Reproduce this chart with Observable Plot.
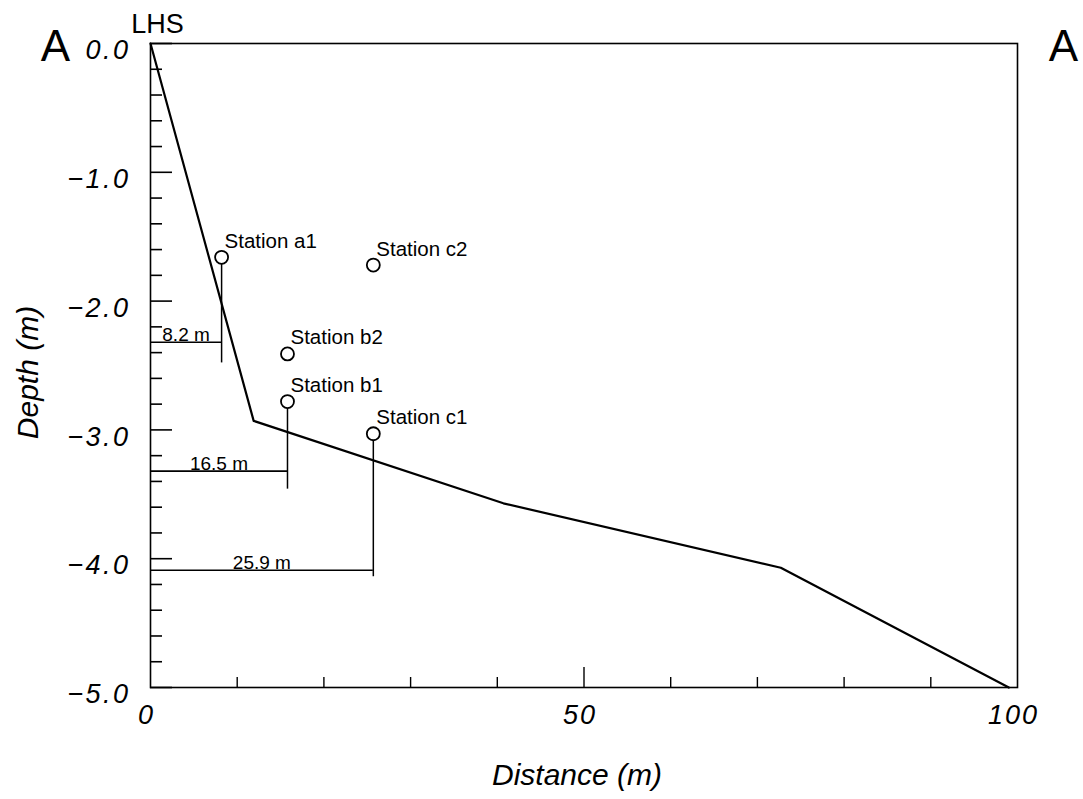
<!DOCTYPE html>
<html>
<head>
<meta charset="utf-8">
<script src="https://cdn.jsdelivr.net/npm/d3@7"></script>
<script src="https://cdn.jsdelivr.net/npm/@observablehq/plot@0.6"></script>
<style>
  html, body { margin: 0; padding: 0; background: #fff; }
  svg { display: block; }
  g[aria-label="y-axis tick label"] text { letter-spacing: 2.5px; }
  g[aria-label="x-axis tick label"] text { letter-spacing: 2px; }
</style>
</head>
<body>
<div id="chart"></div>
<script>
// Beach profile
const profileX = [0, 11.9, 40.7, 72.7, 99];
const profileDepth = [0, -2.93, -3.57, -4.07, -5.0];

// Stations
const stationNames = ["Station a1", "Station b2", "Station b1", "Station c2", "Station c1"];
const stationX = [8.2, 15.8, 15.8, 25.7, 25.7];
const stationDepth = [-1.66, -2.41, -2.78, -1.72, -3.03];

// Distance markers (stems + horizontal dimension lines)
const distLabels = ["8.2 m", "16.5 m", "25.9 m"];
const distX = [8.2, 15.8, 25.7];
const distDepth = [-2.32, -3.32, -4.09];
const stemTop = [-1.66, -2.78, -3.03];
const stemBottom = [-2.48, -3.46, -4.14];

// Axis ticks
const xMinorTicks = [10, 20, 30, 40, 60, 70, 80, 90];
const xMajorTicks = [50];
const xTickLabels = [0, 50, 100];
const yMajorTicks = [0, -1, -2, -3, -4, -5];
const yMinorTicks = d3.range(0, 26).map(i => -i * 0.2).filter(v => Math.abs(v - Math.round(v)) > 1e-6);

const profile = profileX.map((x, i) => ({x, y: profileDepth[i]}));
const stations = stationNames.map((name, i) => ({name, x: stationX[i], y: stationDepth[i]}));
const dist = distLabels.map((label, i) => ({label, x: distX[i], y: distDepth[i], top: stemTop[i], bottom: stemBottom[i]}));

const W = 1083, H = 799;
const mL = 150, mR = 66, mT = 43, mB = 112;
const pw = W - mL - mR, ph = H - mT - mB;
const font = "'Liberation Sans', Arial, Helvetica, sans-serif";

const chart = Plot.plot({
  width: W,
  height: H,
  marginLeft: mL,
  marginRight: mR,
  marginTop: mT,
  marginBottom: mB,
  style: {fontFamily: font, background: "#fff", color: "#000"},
  x: {domain: [0, 100]},
  y: {domain: [-5, 0]},
  marks: [
    Plot.frame({stroke: "#000", strokeWidth: 1.6}),
    // axes labels (italic)
    Plot.axisY(yMajorTicks, {tickSize: 0, tickPadding: 20, tickFormat: d3.format(".1f"), fontSize: 27, fontStyle: "italic", dy: 7, label: null}),
    Plot.axisX(xTickLabels, {tickSize: 0, tickPadding: 17, tickFormat: d => String(d), fontSize: 27, fontStyle: "italic", dx: -4, label: null}),
    // inward ticks
    Plot.tickY(yMinorTicks, {y: d => d, insetRight: pw - 12, stroke: "#000", strokeWidth: 1.6}),
    Plot.tickY(yMajorTicks, {y: d => d, insetRight: pw - 22, stroke: "#000", strokeWidth: 1.6}),
    Plot.tickX(xMinorTicks, {x: d => d, insetTop: ph - 10, stroke: "#000", strokeWidth: 1.4}),
    Plot.tickX(xMajorTicks, {x: d => d, insetTop: ph - 20, stroke: "#000", strokeWidth: 1.4}),
    // profile
    Plot.line(profile, {x: "x", y: "y", stroke: "#000", strokeWidth: 2.2}),
    // distance stems and dimension lines
    Plot.ruleX(dist, {x: "x", y1: "top", y2: "bottom", stroke: "#000", strokeWidth: 1.5}),
    Plot.ruleY(dist, {y: "y", x1: 0, x2: "x", stroke: "#000", strokeWidth: 1.6}),
    Plot.text(dist, {x: d => d.x / 2, y: "y", text: "label", fontSize: 19, textAnchor: "middle", lineAnchor: "bottom", dy: -1, fill: "#000"}),
    // stations
    Plot.dot(stations, {x: "x", y: "y", r: 6.5, stroke: "#000", fill: "#fff", strokeWidth: 1.8}),
    Plot.text(stations, {x: "x", y: "y", text: "name", fontSize: 20.5, textAnchor: "start", lineAnchor: "middle", dx: 3, dy: -16, fill: "#000"}),
    // titles
    Plot.text(["Depth (m)"], {frameAnchor: "left", text: d => d, rotate: -90, fontSize: 30, fontStyle: "italic", textAnchor: "middle", lineAnchor: "middle", dx: -122, dy: 7, fill: "#000"}),
    Plot.text(["Distance (m)"], {frameAnchor: "bottom", text: d => d, fontSize: 30, fontStyle: "italic", textAnchor: "middle", lineAnchor: "middle", dx: -7, dy: 88, fill: "#000"}),
    Plot.text(["A"], {frameAnchor: "top-left", text: d => d, fontSize: 44, textAnchor: "middle", lineAnchor: "middle", dx: -95, dy: 3, fill: "#000"}),
    Plot.text(["A"], {frameAnchor: "top-right", text: d => d, fontSize: 44, textAnchor: "middle", lineAnchor: "middle", dx: 46, dy: 3, fill: "#000"}),
    Plot.text(["LHS"], {frameAnchor: "top-left", text: d => d, fontSize: 27, textAnchor: "middle", lineAnchor: "middle", dx: 7, dy: -19, fill: "#000"})
  ]
});
document.getElementById("chart").appendChild(chart);
</script>
</body>
</html>
